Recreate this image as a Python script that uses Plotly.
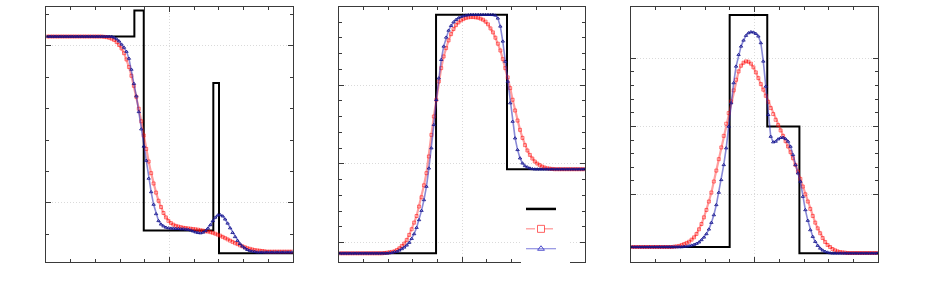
import numpy as np
import plotly.graph_objects as go

# ---------------- data ----------------
X_CELLS = [round(0.005 + 0.01 * i, 3) for i in range(100)]

# Panel 1
EXACT1_X = [0.0, 0.357, 0.395, 0.677, 0.700, 1.0]
EXACT1_Y = [1.030, 1.113, 0.412, 0.882, 0.340, 0.340]
RED1 = ([1.030] * 23 +
        [1.029, 1.028, 1.026, 1.023, 1.019, 1.012, 1.003, 0.992, 0.977, 0.957,
         0.933, 0.905, 0.873, 0.838, 0.800, 0.760, 0.715, 0.672, 0.632, 0.595,
         0.562, 0.533, 0.507, 0.487, 0.468, 0.454, 0.443, 0.436, 0.431, 0.427,
         0.425, 0.423, 0.421, 0.420, 0.419, 0.418, 0.417, 0.416, 0.415, 0.413,
         0.412, 0.410, 0.409, 0.407, 0.405, 0.402, 0.399, 0.396, 0.392, 0.388,
         0.384, 0.380, 0.376, 0.372, 0.369, 0.365, 0.362, 0.359, 0.356, 0.354,
         0.352, 0.350, 0.349, 0.348, 0.347, 0.346] +
        [0.345] * 11)
BLUE1 = ([1.030] * 27 +
         [1.027, 1.022, 1.015, 1.005, 0.995, 0.982, 0.960, 0.925, 0.880, 0.840,
          0.790, 0.735, 0.680, 0.635, 0.578, 0.535, 0.495, 0.465, 0.443, 0.432,
          0.426, 0.422] +
         [0.420, 0.419, 0.419, 0.418, 0.418, 0.417, 0.417, 0.416, 0.415, 0.413,
          0.410, 0.407, 0.405, 0.404, 0.406, 0.411, 0.419, 0.430, 0.443, 0.454,
          0.461, 0.462, 0.458, 0.448, 0.435, 0.420, 0.405, 0.392, 0.380, 0.370,
          0.362, 0.356, 0.351, 0.348, 0.346, 0.345] +
         [0.343] * 15)

# Panel 2
EXACT2_X = [0.0, 0.394, 0.682, 1.0]
EXACT2_Y = [0.432, 1.947, 0.966, 0.966]
RED2 = ([0.432] * 18 +
        [0.434, 0.436, 0.439, 0.441, 0.445, 0.453, 0.464, 0.479, 0.494, 0.517,
         0.549, 0.585, 0.627, 0.669, 0.729, 0.788, 0.864, 0.941, 1.047, 1.184,
         1.301, 1.407, 1.523, 1.608, 1.682, 1.735, 1.784, 1.824, 1.856, 1.881,
         1.898, 1.911, 1.919, 1.926, 1.930, 1.932, 1.932, 1.930, 1.928, 1.922,
         1.915, 1.903, 1.886, 1.860, 1.835, 1.801, 1.763, 1.720, 1.665, 1.608,
         1.549, 1.481, 1.407, 1.339, 1.275, 1.216, 1.165, 1.119, 1.085, 1.057,
         1.034, 1.015, 1.002, 0.992, 0.983, 0.977, 0.972, 0.970, 0.968] +
        [0.966] * 13)
BLUE2 = ([0.432] * 20 +
         [0.434, 0.436, 0.441, 0.443, 0.451, 0.460, 0.470, 0.483, 0.500, 0.525,
          0.555, 0.595, 0.644, 0.703, 0.771, 0.856, 0.972, 1.100, 1.248, 1.407,
          1.544, 1.661, 1.746, 1.803, 1.847, 1.877, 1.900, 1.915, 1.926, 1.934,
          1.939, 1.943, 1.945] +
         [1.947] * 10 +
         [1.943, 1.924, 1.873, 1.778, 1.650, 1.523, 1.386, 1.269, 1.163, 1.089,
          1.036, 1.004, 0.987, 0.979, 0.972, 0.968] +
         [0.966] * 21)

# Panel 3
EXACT3_X = [0.0, 0.399, 0.551, 0.681, 1.0]
EXACT3_Y = [0.115, 1.819, 1.000, 0.069, 0.069]
RED3 = ([0.115] * 17 +
        [0.118, 0.120, 0.123, 0.130, 0.137, 0.145, 0.154, 0.169, 0.186, 0.211,
         0.245, 0.284, 0.333, 0.387, 0.449, 0.515, 0.596, 0.676, 0.760, 0.846,
         0.931, 1.020, 1.098, 1.184, 1.265, 1.343, 1.404, 1.446, 1.468, 1.478,
         1.475, 1.461, 1.434, 1.397, 1.355, 1.311, 1.270, 1.225, 1.181, 1.135,
         1.091, 1.049, 1.010, 0.971, 0.931, 0.892, 0.853, 0.811, 0.767, 0.718,
         0.669, 0.615, 0.559, 0.502, 0.449, 0.395, 0.343, 0.294, 0.252, 0.216,
         0.181, 0.152, 0.130, 0.115, 0.100, 0.091, 0.083, 0.078, 0.076, 0.074] +
        [0.071] * 13)
BLUE3 = ([0.115] * 21 +
         [0.118, 0.120, 0.123, 0.127, 0.132, 0.140, 0.150, 0.167, 0.186, 0.211,
          0.245, 0.294, 0.350, 0.424, 0.515, 0.608, 0.718, 0.841, 1.000, 1.172,
          1.319, 1.441, 1.527, 1.588, 1.632, 1.667, 1.686, 1.694, 1.691, 1.681,
          1.662, 1.613, 1.478, 1.294, 1.086, 0.926, 0.885, 0.890, 0.907, 0.917,
          0.919, 0.909, 0.890, 0.853, 0.792, 0.718, 0.657, 0.596, 0.485, 0.387,
          0.309, 0.240, 0.191, 0.154, 0.125, 0.105, 0.091, 0.081, 0.076, 0.071] +
         [0.069] * 19)

Y_RANGES = [[0.312, 1.124], [0.377, 1.996], [0.005, 1.877]]
Y_MINOR = [[0.4, 0.6, 0.7, 0.8, 0.9, 1.1],
           [0.6, 0.7, 0.8, 0.9, 1.1, 1.2, 1.3, 1.4, 1.6, 1.7, 1.8, 1.9],
           [0.6, 0.7, 0.8, 0.9, 1.1, 1.2, 1.3, 1.4]]
X_MINOR = [0.1, 0.2, 0.3, 0.4, 0.6, 0.7, 0.8, 0.9]

panels = [(EXACT1_X, EXACT1_Y, RED1, BLUE1),
          (EXACT2_X, EXACT2_Y, RED2, BLUE2),
          (EXACT3_X, EXACT3_Y, RED3, BLUE3)]

W, H = 925, 300
x_domains_px = [(46.3, 293.0), (339.0, 585.3), (631.0, 878.3)]

RED_LINE = "rgba(255,40,40,0.45)"
RED_MK = "rgba(255,0,0,0.5)"
BLUE_LINE = "rgba(40,40,180,0.55)"
BLUE_MK = "rgba(20,20,140,0.85)"
AX = "#3a3a3a"

fig = go.Figure()
for k, (ex, ey, red, blue) in enumerate(panels):
    xa = "x" if k == 0 else f"x{k+1}"
    ya = "y" if k == 0 else f"y{k+1}"
    fig.add_trace(go.Scatter(x=ex, y=ey, mode="lines", line=dict(color="black", width=2, shape="hv"),
                             xaxis=xa, yaxis=ya, showlegend=False))
    fig.add_trace(go.Scatter(x=X_CELLS, y=red, mode="lines+markers",
                             line=dict(color=RED_LINE, width=2.2),
                             marker=dict(symbol="square-open", size=3, color=RED_MK, line=dict(width=1, color=RED_MK)),
                             xaxis=xa, yaxis=ya, showlegend=False))
    fig.add_trace(go.Scatter(x=X_CELLS, y=blue, mode="lines+markers",
                             line=dict(color=BLUE_LINE, width=1.6),
                             marker=dict(symbol="triangle-up-open", size=3, color=BLUE_MK, line=dict(width=1, color=BLUE_MK)),
                             xaxis=xa, yaxis=ya, showlegend=False))

# legend-only entries (no label text in the reference)
fig.add_trace(go.Scatter(x=[None], y=[None], mode="lines", line=dict(color="black", width=2.5),
                         name="\u00a0", xaxis="x2", yaxis="y2"))
fig.add_trace(go.Scatter(x=[None], y=[None], mode="lines+markers",
                         line=dict(color="rgba(255,90,90,0.8)", width=1, dash="dash"),
                         marker=dict(symbol="square-open", size=7, color="rgba(255,60,60,0.8)", line=dict(width=1)),
                         name="\u00a0", xaxis="x2", yaxis="y2"))
fig.add_trace(go.Scatter(x=[None], y=[None], mode="lines+markers",
                         line=dict(color="rgba(90,90,210,0.8)", width=1),
                         marker=dict(symbol="triangle-up-open", size=6, color="rgba(60,60,200,0.9)", line=dict(width=1)),
                         name="\u00a0", xaxis="x2", yaxis="y2"))

layout = dict(width=W, height=H, margin=dict(l=0, r=0, t=7, b=38),
              paper_bgcolor="white", plot_bgcolor="white",
              showlegend=True,
              legend=dict(x=521 / W, y=(262 - 194) / 255, xanchor="left", yanchor="top",
                          bgcolor="white", borderwidth=0, font=dict(size=13),
                          tracegroupgap=0, itemsizing="trace"))

common = dict(showline=True, mirror="ticks", linecolor=AX, linewidth=1,
              ticks="inside", ticklen=5, tickcolor=AX, tickwidth=1,
              showticklabels=False, zeroline=False,
              showgrid=True, gridcolor="#dadada", griddash="1px,2px", gridwidth=1)

for k in range(3):
    xname = "xaxis" if k == 0 else f"xaxis{k+1}"
    yname = "yaxis" if k == 0 else f"yaxis{k+1}"
    x0, x1 = x_domains_px[k]
    layout[xname] = dict(common, domain=[x0 / W, x1 / W], range=[0, 1],
                         tick0=0, dtick=0.5, anchor="y" if k == 0 else f"y{k+1}",
                         minor=dict(tickmode="array", tickvals=X_MINOR, ticks="inside",
                                    ticklen=3, tickcolor=AX, showgrid=False))
    layout[yname] = dict(common, domain=[0, 1], range=Y_RANGES[k],
                         tick0=0, dtick=0.5, anchor="x" if k == 0 else f"x{k+1}",
                         minor=dict(tickmode="array", tickvals=Y_MINOR[k], ticks="inside",
                                    ticklen=3, tickcolor=AX, showgrid=False))

fig.update_layout(**layout)
fig.write_html("out.html", config={"displayModeBar": False},
               post_script="document.body.style.margin='0px';")
